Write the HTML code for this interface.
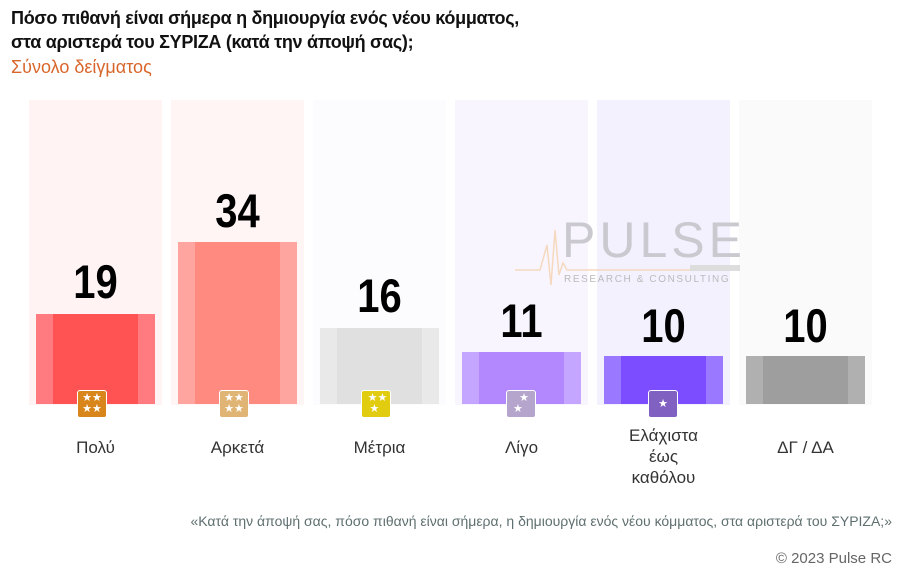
<!DOCTYPE html>
<html><head><meta charset="utf-8"><style>
body{margin:0;width:900px;height:577px;background:#fff;position:relative;overflow:hidden;font-family:"Liberation Sans",sans-serif}
.t{position:absolute;left:11px;font-weight:bold;font-size:18px;color:#111;letter-spacing:-0.3px}
.col{position:absolute;top:100px;width:133px;height:305px}
.bar{position:absolute;width:119px;bottom:0}
.bar i{position:absolute;top:0;bottom:0;width:17px}
.num{position:absolute;width:133px;text-align:center;font-weight:bold;font-size:47px;color:#000;transform:scaleX(0.85)}
.ic{position:absolute;top:390px;width:30px;height:28px;border-radius:3px;border:1px solid #fff;box-sizing:border-box;color:#fff;font-size:11px;line-height:11px;text-align:center;padding-top:2px}
.lb{position:absolute;width:133px;text-align:center;font-size:17px;color:#333;line-height:21px}
</style></head><body>
<div class="t" style="top:8px">Πόσο πιθανή είναι σήμερα η δημιουργία ενός νέου κόμματος,</div>
<div class="t" style="top:32px">στα αριστερά του ΣΥΡΙΖΑ (κατά την άποψή σας);</div>
<div style="position:absolute;left:11px;top:57px;font-size:18px;color:#d8662a">Σύνολο δείγματος</div>

<div class="col" style="left:29px;background:#fff3f3"></div>
<div class="col" style="left:171px;background:#fff5f5"></div>
<div class="col" style="left:313px;background:#fcfbfd"></div>
<div class="col" style="left:455px;background:#f8f5fe"></div>
<div class="col" style="left:597px;background:#f3f1fe"></div>
<div class="col" style="left:739px;background:#fafafa"></div>

<div style="position:absolute;left:562px;top:211px;font-size:50px;color:#c9c9cf;letter-spacing:4px;font-weight:300">PULSE</div>
<div style="position:absolute;left:564px;top:274px;font-size:10px;color:#bbb;letter-spacing:1.6px">RESEARCH &amp; CONSULTING</div>
<svg style="position:absolute;left:515px;top:225px" width="230" height="65"><polyline points="0,45 25,45 32,20 36,60 40,5 44,50 48,38 52,45 175,45" fill="none" stroke="#f5d9bf" stroke-width="1.5"/><rect x="175" y="40" width="50" height="6" fill="#ddd"/></svg>

<div class="bar" style="left:36px;top:314px;height:90px;background:#ff5252"><i style="left:0;background:#ff7b80"></i><i style="right:0;background:#ff7b80"></i></div>
<div class="bar" style="left:178px;top:242px;height:162px;background:#ff8a80"><i style="left:0;background:#ffa5a0"></i><i style="right:0;background:#ffa5a0"></i></div>
<div class="bar" style="left:320px;top:328px;height:76px;background:#e0e0e0"><i style="left:0;background:#e9e9e9"></i><i style="right:0;background:#e9e9e9"></i></div>
<div class="bar" style="left:462px;top:352px;height:52px;background:#b388ff"><i style="left:0;background:#c4a5ff"></i><i style="right:0;background:#c4a5ff"></i></div>
<div class="bar" style="left:604px;top:356px;height:48px;background:#7c4dff"><i style="left:0;background:#9a78ff"></i><i style="right:0;background:#9a78ff"></i></div>
<div class="bar" style="left:746px;top:356px;height:48px;background:#9e9e9e"><i style="left:0;background:#b0b0b0"></i><i style="right:0;background:#b0b0b0"></i></div>

<div class="num" style="left:29px;top:254px">19</div>
<div class="num" style="left:171px;top:183px">34</div>
<div class="num" style="left:313px;top:268px">16</div>
<div class="num" style="left:455px;top:293px">11</div>
<div class="num" style="left:597px;top:298px">10</div>
<div class="num" style="left:739px;top:298px">10</div>

<div class="ic" style="left:77px;background:#d8861c">★★<br>★★</div>
<div class="ic" style="left:219px;background:#e0b474">★★<br>★★</div>
<div class="ic" style="left:361px;background:#e1cc10">&nbsp;★★<br>★&nbsp;</div>
<div class="ic" style="left:506px;background:#b5a5cc">&nbsp;&nbsp;★<br>★&nbsp;&nbsp;</div>
<div class="ic" style="left:648px;background:#8060c0;padding-top:8px">★</div>

<div class="lb" style="left:29px;top:437px">Πολύ</div>
<div class="lb" style="left:171px;top:437px">Αρκετά</div>
<div class="lb" style="left:313px;top:437px">Μέτρια</div>
<div class="lb" style="left:455px;top:437px">Λίγο</div>
<div class="lb" style="left:597px;top:425px">Ελάχιστα<br>έως<br>καθόλου</div>
<div class="lb" style="left:739px;top:437px">ΔΓ / ΔΑ</div>

<div style="position:absolute;right:8px;top:513px;font-size:14px;color:#5f6f6f">«Κατά την άποψή σας, πόσο πιθανή είναι σήμερα, η δημιουργία ενός νέου κόμματος, στα αριστερά του ΣΥΡΙΖΑ;»</div>
<div style="position:absolute;right:8px;top:550px;font-size:15px;color:#666">© 2023 Pulse RC</div>
</body></html>
